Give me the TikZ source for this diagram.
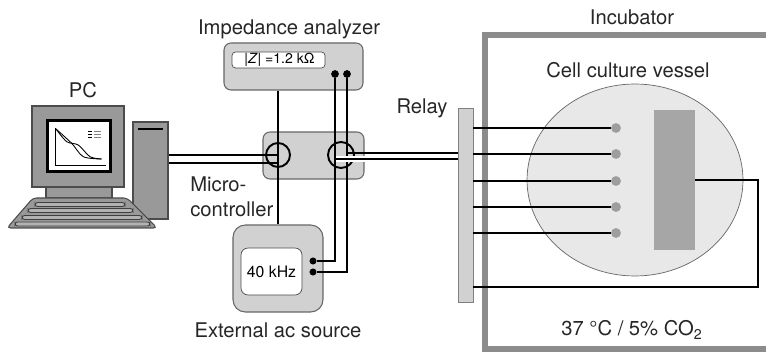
\documentclass[tikz,border=0pt]{standalone}
\usepackage{fontspec}
\setmainfont{TeX Gyre Heros}
\usetikzlibrary{shapes}
\usetikzlibrary{calc}

\begin{document}
\begin{tikzpicture}[x=0.02cm, y=-0.02cm,
  box/.style={draw=black!60, fill=black!18, rounded corners=4pt, line width=0.6pt, inner sep=0pt},
  term/.style={inner sep=0pt, minimum size=4.4pt, fill=black, circle},
  electrode/.style={inner sep=0pt, minimum size=5.6pt, fill=black!38, circle},
  switch/.style={draw, circle, line width=1.1pt, inner sep=0pt},
  lead/.style={line width=1.5pt},
  wire/.style={line width=1.5pt, preaction={draw=white, line width=3.5pt}},
  pcpart/.style={draw=black!70, fill=black!40, line width=0.6pt},
  lbl/.style={font=\fontsize{11.5}{14}\selectfont, text=black!85, inner sep=0pt}]

\useasboundingbox (0,0) rectangle (766,357);

%%%%%%%%%%%% incubator with the vessel
\draw[draw=black!45, line width=3.6pt] (790,35) -- (485,35) -- (485,349) -- (790,349);
\node[ellipse, draw=black!60, fill=black!9, minimum width=4.32cm, minimum height=3.84cm, inner sep=0pt] (vessel) at (635,180) {};
\node[fill=black!35, minimum width=0.82cm, minimum height=2.8cm, inner sep=0pt] (counter) at (674.5,180) {};
\node[fill=black!18, draw=black!50, minimum width=0.3cm, minimum height=3.88cm, inner sep=0pt] (relay) at (465.5,205) {};

\foreach \i/\y in {1/128,2/154,3/181,4/207,5/233}
{
\node[electrode] (e\i) at (616,\y) {};
\draw[lead] (relay.east |- e\i) -- (e\i);
}
\coordinate (cbend) at (758,287);
\draw[lead] (counter.east) -| (cbend) -- (relay.east |- cbend);

%%%%%%%%%%%% PC
\node[pcpart, minimum width=0.7cm, minimum height=1.94cm, inner sep=0pt] (tower) at (150.5,170.5) {};
\draw[line width=1.2pt] (138,129) -- (163,129);
\node[pcpart, minimum width=1.84cm, minimum height=1.62cm, inner sep=0pt] (monitor) at (78,146.5) {};
\node[draw=black, line width=1.4pt, fill=white, minimum width=1.26cm, minimum height=1.02cm, inner sep=0pt] (screen) at (79,146) {};
\draw[pcpart] (46,187) rectangle (112,198);
\draw[pcpart, rounded corners=2pt] (33,198) -- (127,198) -- (157,228) -- (7,228) -- cycle;
\foreach \y/\l/\r in {204.5/35/125, 210.5/28/133, 217.5/22/142, 224/15/150}
{\draw[draw=black!75, fill=black!30, line width=0.5pt, rounded corners=1.5pt] (\l,\y-2) rectangle (\r,\y+2);}

% curves on the screen
\draw[line width=0.3pt] (55,128) -- (55,165) -- (106,165);
\foreach \t in {62,70,78,86,94,102} {\draw[line width=0.3pt] (\t,165) -- (\t,166.5);}
\draw[line width=0.5pt] plot[smooth] coordinates {(56,129) (66.7,141.7) (78.3,145) (90,156.7) (101.7,159)};
\draw[line width=0.5pt] plot[smooth] coordinates {(56,129) (71.7,143.3) (83.3,156.7) (101.7,159)};
\foreach \y in {131,134,137} {\draw[line width=0.3pt] (88,\y) -- (92,\y); \draw[line width=0.3pt, black!50] (94,\y) -- (101,\y);}

%%%%%%%%%%%% analyzer, controller and source
\node[box, minimum width=2.78cm, minimum height=0.94cm] (analyzer) at (293.5,66.5) {};
\node[draw=black!70, fill=white, rounded corners=2pt, minimum width=1.86cm, minimum height=0.32cm, inner sep=0pt] (zdisplay) at (278.5,60) {};
\node[anchor=west, inner sep=0pt, font=\fontsize{8}{9}\selectfont] (zvalue) at (244,60) {|\textit{Z}| =1.2 kΩ};
\node[term] (za) at (335,74) {};
\node[term] (zb) at (347,74) {};

\node[box, minimum width=2.02cm, minimum height=0.94cm] (mcu) at (313.5,155.5) {};
\node[switch, minimum size=0.48cm] (swa) at (278,155) {};
\node[switch, minimum size=0.52cm] (swb) at (341,155) {};

\node[box, rounded corners=7pt, minimum width=1.8cm, minimum height=1.74cm] (source) at (278,268.5) {};
\node[draw=black!70, fill=white, rounded corners=4pt, minimum width=1.22cm, minimum height=0.94cm, inner sep=0pt, font=\fontsize{9}{10}\selectfont] (osc) at (271.5,271.5) {40 kHz};
\node[term, minimum size=4pt] (sa) at (313,261) {};
\node[term, minimum size=4pt] (sb) at (313,272) {};

%%%%%%%%%%%% wiring
\draw[lead] (tower.east |- swa) -- (swa.center);
\draw[lead] ($(tower.east |- swa)+(0,8)$) -- ($(swa.center)+(0,8)$);
\draw[lead] (analyzer.south -| swa) -- (source.north -| swa);

\coordinate (ba) at (347,153);
\coordinate (bb) at (335,159);
\draw[lead] (zb) |- (sb);
\draw[lead] (ba) -- (relay.west |- ba);
\draw[wire] (bb) -- (relay.west |- bb);
\draw[lead] (za) |- (sa);

%%%%%%%%%%%% labels
\node[lbl] (pclabel) at (83,90) {PC};
\node[lbl] (analyzerlabel) at (289,29) {Impedance analyzer};
\node[lbl, align=left, anchor=west] (mculabel) at (190,197) {Micro-\\controller};
\node[lbl] (sourcelabel) at (278,330) {External ac source};
\node[lbl] (relaylabel) at (422,108) {Relay};
\node[lbl] (incubatorlabel) at (632,17) {Incubator};
\node[lbl] (vessellabel) at (628,70) {Cell culture vessel};
\node[lbl] (climatelabel) at (632,330) {37 °C / 5\% CO\textsubscript{2}};
\end{tikzpicture}
\end{document}
